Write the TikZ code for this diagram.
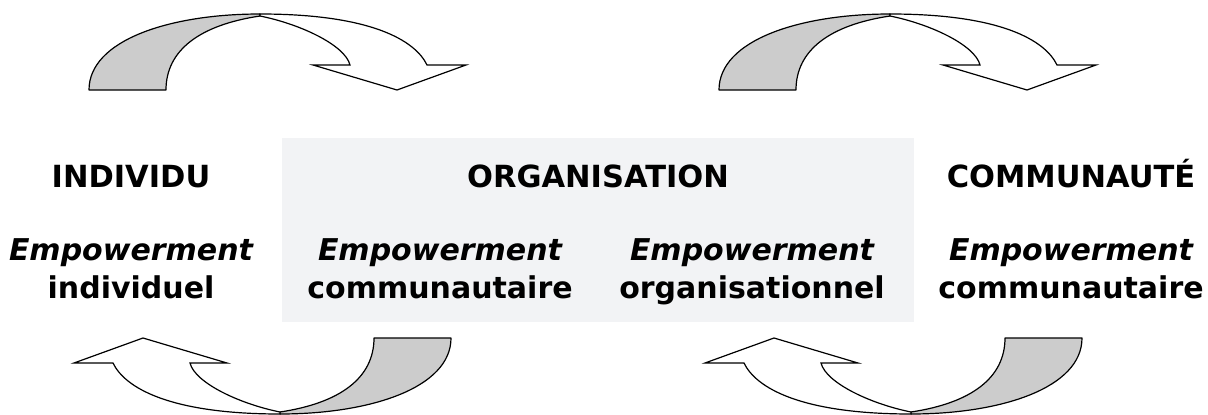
\documentclass[tikz,border=0pt]{standalone}
\usepackage{fontspec}
\setmainfont{DejaVu Sans}
\usepackage{tikz}
\usetikzlibrary{positioning}
\definecolor{boxgray}{RGB}{242,243,245}
\definecolor{backgray}{RGB}{204,204,204}

\tikzset{
  arrowback/.style={fill=backgray, draw=black, line width=1.2pt, line join=round},
  arrowfront/.style={fill=white, draw=black, line width=1.2pt, line join=miter},
  head/.style={font=\fontsize{30.5}{36}\selectfont\bfseries, anchor=base, inner sep=0pt},
  emph/.style={font=\fontsize{30}{36}\selectfont\bfseries\itshape, anchor=base, inner sep=0pt},
  plain/.style={font=\fontsize{30}{36}\selectfont\bfseries, inner sep=0pt},
  turnarrow/.pic={
    \filldraw[arrowback] (-181,-124) .. controls (-181,-174) and (-100,-200) .. (-10,-200)
      -- (-10,-198) .. controls (-70,-189) and (-104,-164) .. (-104,-124) -- cycle;
    \filldraw[arrowfront] (-10,-200) .. controls (100,-200) and (145,-174) .. (157,-149)
      -- (196,-149) -- (127,-124) -- (43,-149) -- (80,-149)
      .. controls (75,-169) and (30,-190) .. (-10,-198) -- cycle;
  }
}

\begin{document}
\begin{tikzpicture}[x=1pt, y=-1pt]
\useasboundingbox (0,0) rectangle (1208,415);
\fill[boxgray] (282,138) rectangle (914,322);

% the four turning arrows
\pic at (270,214) {turnarrow};
\pic[rotate=180] at (270,214) {turnarrow};
\pic at (900,214) {turnarrow};
\pic[rotate=180] at (901,214) {turnarrow};

% headings
\node[head] (indiv) at (131,187) {INDIVIDU};
\node[head] (orga) at (598,187) {ORGANISATION};
\node[head] (commu) at (1071,187) {COMMUNAUTÉ};

% empowerment labels
\node[emph] (emp1) at (131,260) {Empowerment};
\node[emph] (emp2) at (440,260) {Empowerment};
\node[emph] (emp3) at (752,260) {Empowerment};
\node[emph] (emp4) at (1071,260) {Empowerment};
\node[plain, below=38pt of emp1.base, anchor=base] (ind) {individuel};
\node[plain, below=38pt of emp2.base, anchor=base] (com1) {communautaire};
\node[plain, below=38pt of emp3.base, anchor=base] (org) {organisationnel};
\node[plain, below=38pt of emp4.base, anchor=base] (com2) {communautaire};
\end{tikzpicture}
\end{document}
